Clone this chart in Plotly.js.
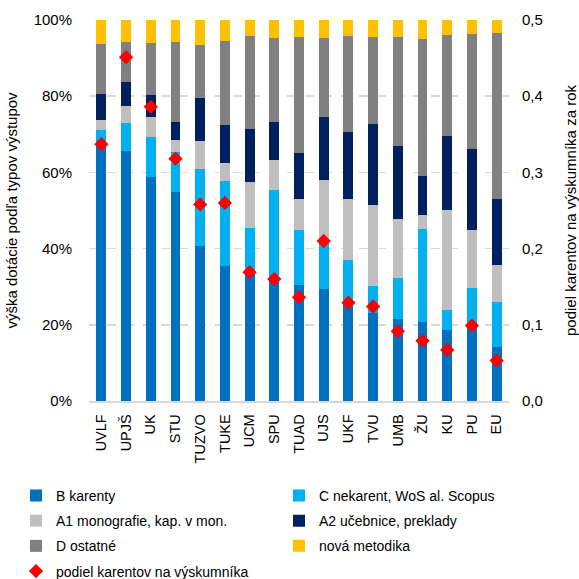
<!DOCTYPE html>
<html>
<head>
<meta charset="utf-8">
<script src="https://cdn.plot.ly/plotly-3.0.1.min.js"></script>
<style>html,body{margin:0;padding:0;background:#fff}#chart{width:579px;height:579px}</style>
</head>
<body>
<div id="chart"></div>
<script>
const categories = ["UVLF","UPJŠ","UK","STU","TUZVO","TUKE","UCM","SPU","TUAD","UJS","UKF","TVU","UMB","ŽU","KU","PU","EU"];
const bKarenty   = [67.5,65.6,58.8,54.8,40.7,35.4,33.9,32.1,30.4,29.4,25.7,23.1,21.4,20.7,18.6,19.4,14.2];
const cNekarent  = [3.7,7.4,10.5,10.6,20.1,22.3,11.4,23.2,14.4,12.8,11.3,7.2,10.9,24.4,5.3,10.3,11.7];
const a1Mono     = [2.5,4.5,5.2,3.1,7.4,4.8,12.1,8.0,8.3,15.8,16.1,21.1,15.5,3.8,26.2,15.1,9.8];
const a2Ucebnice = [6.9,6.1,5.8,4.8,11.3,9.9,14.1,9.9,12.0,16.5,17.4,21.2,19.0,10.2,19.5,21.3,17.2];
const dOstatne   = [13.1,10.6,13.7,20.8,13.9,22.0,24.3,22.1,30.4,20.8,25.3,22.9,28.7,35.8,26.4,30.1,43.6];
const novaMetod  = [6.3,5.8,6.0,5.9,6.6,5.6,4.2,4.7,4.5,4.7,4.2,4.5,4.5,5.1,4.0,3.8,3.5];
const podielKarentov = [0.337,0.451,0.386,0.318,0.258,0.260,0.169,0.160,0.136,0.210,0.129,0.124,0.0915,0.079,0.067,0.099,0.053];

const seriesNames = ["B karenty","C nekarent, WoS al. Scopus","A1 monografie, kap. v mon.","A2 učebnice, preklady","D ostatné","nová metodika"];
const seriesData = [bKarenty,cNekarent,a1Mono,a2Ucebnice,dOstatne,novaMetod];
const seriesColors = ["#0070C0","#00B0F0","#BFBFBF","#002060","#808080","#FFC000"];
const seriesLegend = ["legend","legend2","legend","legend2","legend","legend2"];

const FONT = "Liberation Sans, Arial, sans-serif";
const traces = seriesNames.map((n,i)=>({
  type:"bar", name:n, x:categories, y:seriesData[i],
  marker:{color:seriesColors[i]}, legend:seriesLegend[i], legendgroup:"g"+i,
  hoverinfo:"skip"
}));
traces.push({
  type:"scatter", mode:"markers", name:"podiel karentov na výskumníka",
  x:categories, y:podielKarentov, yaxis:"y2", legend:"legend", legendgroup:"g6",
  marker:{symbol:"diamond", color:"#FF0000", size:11}
});

const layout = {
  width:579, height:579,
  margin:{l:89, r:70, t:20, b:178, autoexpand:false},
  paper_bgcolor:"#fff", plot_bgcolor:"#fff",
  font:{family:FONT, size:15, color:"#000"},
  barmode:"stack", bargap:0.6,
  separators:",.",
  showlegend:true,
  xaxis:{
    type:"category", range:[-0.5, categories.length-0.5], tickangle:-90,
    showgrid:false, zeroline:false,
    showline:true, linecolor:"#D9D9D9", linewidth:1.5, ticks:"",
    ticklabelstandoff:6, tickfont:{size:14.5}, automargin:false
  },
  yaxis:{
    range:[0,100], dtick:20, ticksuffix:"%", showgrid:true,
    gridcolor:"#D9D9D9", griddash:"dash", gridwidth:1.5, zeroline:false,
    ticks:"", ticklabelstandoff:16, automargin:false,
    title:{text:"výška dotácie podľa typov výstupov", font:{size:15}, standoff:12}
  },
  yaxis2:{
    overlaying:"y", side:"right", range:[0,0.5], dtick:0.1, tickformat:".1f",
    showgrid:false, zeroline:false, ticks:"", ticklabelstandoff:12, automargin:false,
    title:{text:"podiel karentov na výskumníka za rok", font:{size:15}, standoff:26}
  },
  legend:{
    orientation:"v", x:(16-89)/420, xanchor:"left", y:-0.207, yanchor:"top",
    traceorder:"grouped", tracegroupgap:4, font:{size:14}, bgcolor:"rgba(0,0,0,0)"
  },
  legend2:{
    orientation:"v", x:(279-89)/420, xanchor:"left", y:-0.207, yanchor:"top",
    traceorder:"grouped", tracegroupgap:4, font:{size:14}, bgcolor:"rgba(0,0,0,0)"
  }
};
Plotly.newPlot("chart", traces, layout, {displayModeBar:false, staticPlot:true});
</script>
</body>
</html>
